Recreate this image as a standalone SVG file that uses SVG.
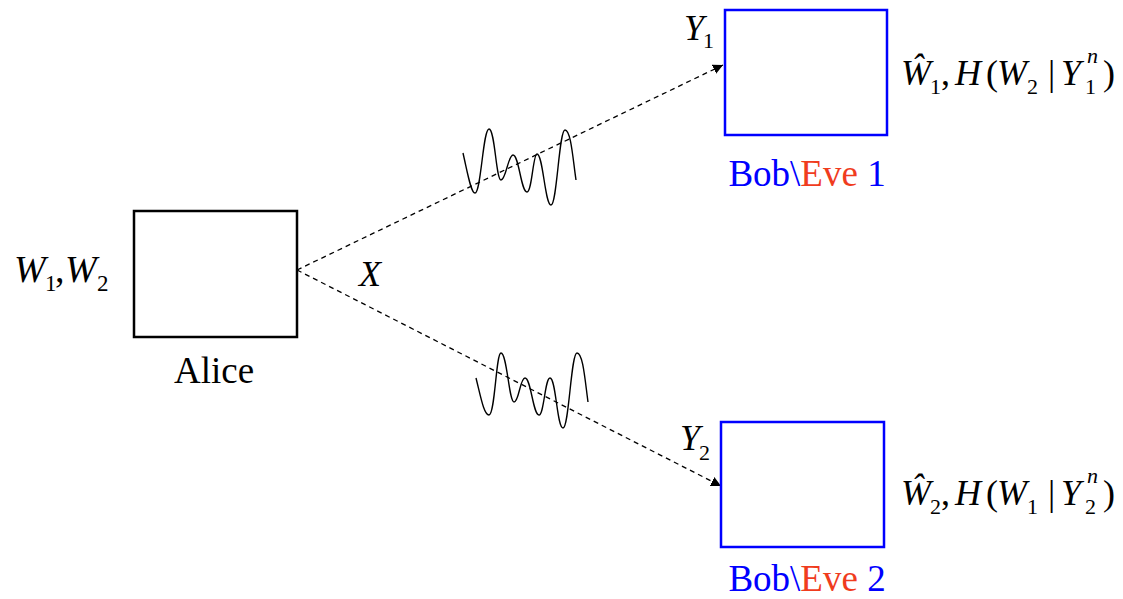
<svg xmlns="http://www.w3.org/2000/svg" width="1123" height="599" viewBox="0 0 1123 599">
<style>
.box{fill:#fff;stroke-width:2.5}
.m{font-family:"Liberation Serif",serif;font-style:italic;font-size:36px;fill:#000}
.r{font-family:"Liberation Serif",serif;font-size:36px;fill:#000}
.s{font-family:"Liberation Serif",serif;font-size:22px;fill:#000}
.si{font-family:"Liberation Serif",serif;font-style:italic;font-size:22px;fill:#000}
.lbl{font-family:"Liberation Serif",serif;font-size:37px}
.conn{stroke:#000;stroke-width:1.3;stroke-dasharray:5 4;fill:none}
.wave{stroke:#000;stroke-width:1.4;fill:none}
</style>
<defs>
<marker id="ah" viewBox="0 0 10 10" refX="10" refY="5" markerWidth="10" markerHeight="10" markerUnits="userSpaceOnUse" orient="auto">
<path d="M0,0 L10,5 L0,10 z" fill="#000"/>
</marker>
</defs>
<g id="connectors">
<line class="conn" x1="297" y1="270" x2="723" y2="65" marker-end="url(#ah)"/>
<line class="conn" x1="297" y1="270" x2="721" y2="486" marker-end="url(#ah)"/>
<path class="wave" d="M463,153 C468,175 471,193 475,193 C481,193 483,129 489,129 C495,129 496,180 501,180 C506,180 508,155 513,155 C519,155 521,192 527,192 C532,192 533,154 537,154 C543,154 545,205 551,205 C557,205 559,130 565,130 C571,130 573,160 576,180"/>
<path class="wave" d="M476,378 C481,398 484,415 489,415 C495,415 496,353 501,353 C507,353 509,402 514,402 C519,402 520,378 525,378 C531,378 533,415 539,415 C544,415 545,378 550,378 C556,378 557,428 563,428 C569,428 571,353 577,353 C583,353 585,380 588,402"/>
</g>
<g id="alice">
<rect class="box" x="134" y="211" width="163" height="126" stroke="#000"/>
<text class="lbl" x="214" y="383" text-anchor="middle" fill="#000">Alice</text>
<text class="m" x="14" y="282" style="font-size:38px">W</text><text class="s" x="45" y="291" style="font-size:23px">1</text><text class="r" x="55" y="282" style="font-size:38px">,</text>
<text class="m" x="65" y="282" style="font-size:38px">W</text><text class="s" x="97" y="291" style="font-size:23px">2</text>
</g>
<text id="xlabel" class="m" x="359" y="286">X</text>
<g id="bob1">
<rect class="box" x="725" y="10" width="162" height="125" stroke="#00f"/>
<text class="lbl" x="807" y="186" text-anchor="middle" fill="#00f">Bob\<tspan fill="#f03c1e">Eve</tspan> 1</text>
<text class="m" x="684" y="40">Y</text><text class="s" x="703" y="48">1</text>
<text class="m" x="901" y="85">Ŵ</text><text class="s" x="930" y="94">1</text><text class="r" x="941" y="85">,</text>
<text class="m" x="955" y="85">H</text><text class="r" x="986" y="85">(</text>
<text class="m" x="997" y="85">W</text><text class="s" x="1027" y="94">2</text>
<text class="r" x="1048" y="85">|</text>
<text class="m" x="1061" y="85">Y</text><text class="si" x="1087" y="63">n</text><text class="s" x="1085" y="94">1</text>
<text class="r" x="1103" y="85">)</text>
</g>
<g id="bob2">
<rect class="box" x="721" y="422" width="163" height="125" stroke="#00f"/>
<text class="lbl" x="807" y="591" text-anchor="middle" fill="#00f">Bob\<tspan fill="#f03c1e">Eve</tspan> 2</text>
<text class="m" x="680" y="450">Y</text><text class="s" x="699" y="460">2</text>
<text class="m" x="901" y="505">Ŵ</text><text class="s" x="930" y="514">2</text><text class="r" x="941" y="505">,</text>
<text class="m" x="955" y="505">H</text><text class="r" x="986" y="505">(</text>
<text class="m" x="997" y="505">W</text><text class="s" x="1027" y="514">1</text>
<text class="r" x="1048" y="505">|</text>
<text class="m" x="1061" y="505">Y</text><text class="si" x="1087" y="483">n</text><text class="s" x="1085" y="514">2</text>
<text class="r" x="1103" y="505">)</text>
</g>
</svg>
